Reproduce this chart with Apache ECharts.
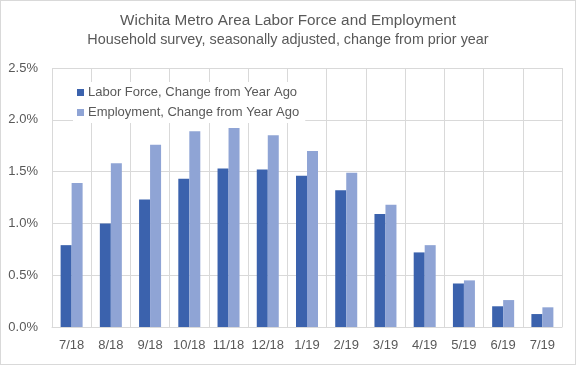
<!DOCTYPE html>
<html><head><meta charset="utf-8">
<script src="https://cdn.jsdelivr.net/npm/echarts@6/dist/echarts.min.js"></script>
<style>html,body{margin:0;padding:0;background:#fff}#c{width:576px;height:365px;box-sizing:border-box;border:1px solid #d9d9d9}</style>
</head><body><div id="c"></div>
<script>
const categories = ['7/18','8/18','9/18','10/18','11/18','12/18','1/19','2/19','3/19','4/19','5/19','6/19','7/19'];
const laborForce = [0.79,1.00,1.23,1.43,1.53,1.52,1.46,1.32,1.09,0.72,0.42,0.20,0.125];
const employment = [1.39,1.58,1.76,1.89,1.92,1.85,1.70,1.49,1.18,0.79,0.45,0.26,0.19];
const seriesNames = ['Labor Force, Change from Year Ago','Employment, Change from Year Ago'];
const titleText = 'Wichita Metro Area Labor Force and Employment';
const subtitleText = 'Household survey, seasonally adjusted, change from prior year';

const font = 'Liberation Sans';
const chart = echarts.init(document.getElementById('c'), null, {renderer:'canvas'});
chart.setOption({
  animation:false,
  title:{text:titleText, subtext:subtitleText, left:'center', top:7, itemGap:5,
    textStyle:{fontFamily:font,fontSize:15.3,fontWeight:'normal',color:'#595959'},
    subtextStyle:{fontFamily:font,fontSize:14.4,color:'#595959'}},
  legend:{orient:'vertical', left:72, top:81, itemGap:7, itemWidth:7, itemHeight:7, icon:'rect',
    backgroundColor:'#fff', padding:[4,6,4,4],
    textStyle:{fontFamily:font,fontSize:13,color:'#595959',padding:[0,0,0,-1]},
    data:seriesNames},
  grid:{left:51,right:13,top:67,bottom:37},
  xAxis:{type:'category',data:categories,boundaryGap:true,
    axisLine:{lineStyle:{color:'#d9d9d9'}},axisTick:{show:false},
    splitLine:{show:true,interval:0,lineStyle:{color:'#d9d9d9'}},
    axisLabel:{interval:0,fontFamily:font,fontSize:13,color:'#595959',margin:12}},
  yAxis:{type:'value',min:0,max:2.5,interval:0.5,
    axisLine:{show:false},axisTick:{show:false},
    splitLine:{lineStyle:{color:'#d9d9d9'}},
    axisLabel:{fontFamily:font,fontSize:13,color:'#595959',margin:14,formatter:v=>v.toFixed(1)+'%'}},
  series:[
    {name:seriesNames[0],type:'bar',data:laborForce,barWidth:11,barGap:'0%',itemStyle:{color:'#3b62ad'}},
    {name:seriesNames[1],type:'bar',data:employment,barWidth:11,itemStyle:{color:'#8fa4d5'}}
  ]
});
</script></body></html>
